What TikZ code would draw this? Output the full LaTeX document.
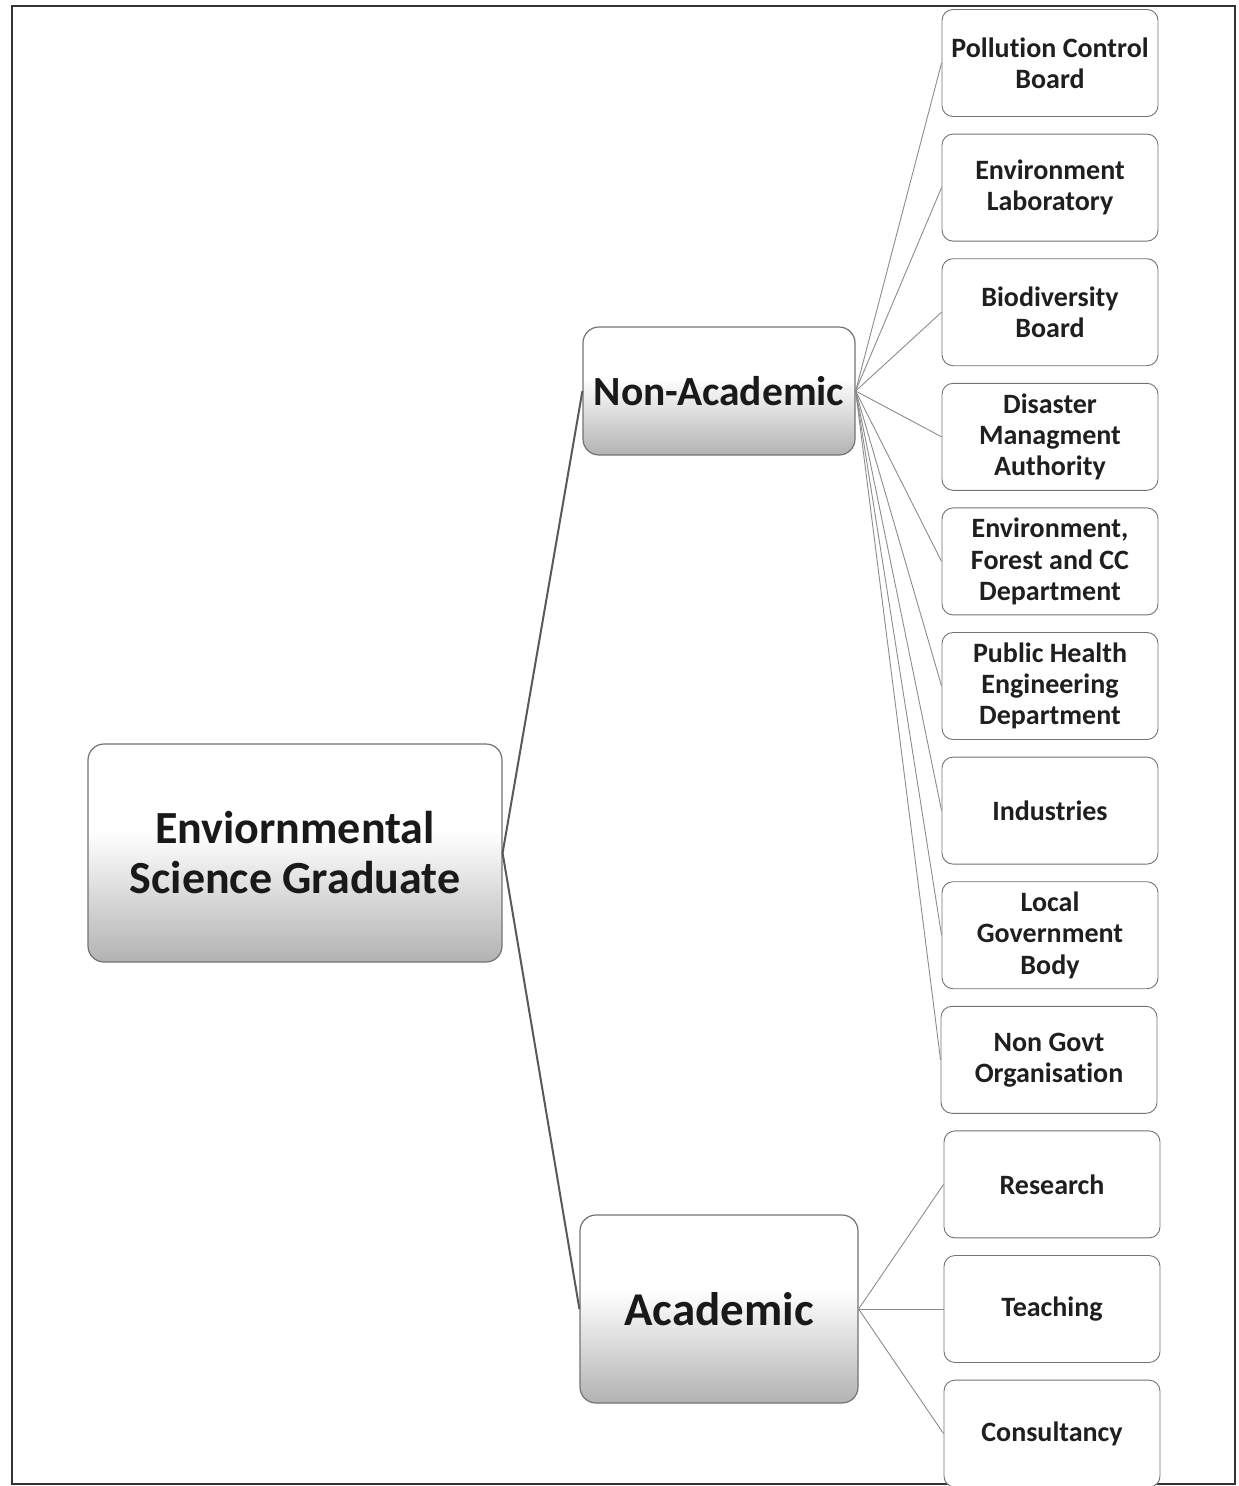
\documentclass[tikz,border=0pt]{standalone}
\usepackage{fontspec}
\setmainfont[Ligatures=NoCommon]{Carlito}
\pgfdeclareverticalshading{boxshade}{100bp}{color(0bp)=(black!40); color(25bp)=(black!30); color(55bp)=(white); color(100bp)=(white)}
\begin{document}
\begin{tikzpicture}[x=1pt,y=-1pt,
  mainbox/.style={rectangle, rounded corners=16pt, draw=black!55, line width=1.2pt, shading=boxshade, align=center, text=black!90, font=\bfseries},
  leafbox/.style={rectangle, rounded corners=11pt, draw=black!55, line width=0.9pt, fill=white, minimum width=216pt, minimum height=107pt, align=center, text=black!88, font=\fontsize{28}{31.2}\selectfont\bfseries, inner sep=1pt},
  thickline/.style={draw=black!65, line width=2pt},
  thinline/.style={draw=black!45, line width=0.9pt}]
\useasboundingbox (0,0) rectangle (1239,1486);
\draw[line width=2pt, black!80] (12,6) rectangle (1235,1484);

\node[mainbox, minimum width=414pt, minimum height=218pt, font=\fontsize{46}{50}\selectfont\bfseries] (root) at (295,853) {Enviornmental\\Science Graduate};
\node[mainbox, minimum width=272pt, minimum height=128pt, font=\fontsize{41.5}{44}\selectfont\bfseries] (na) at (719,391) {Non-Academic};
\node[mainbox, minimum width=278pt, minimum height=188pt, font=\fontsize{47}{49}\selectfont\bfseries] (ac) at (719,1309) {Academic};

\node[leafbox] (l1) at (1050,63) {Pollution Control\\Board};
\node[leafbox] (l2) at (1050,187.6) {Environment\\Laboratory};
\node[leafbox] (l3) at (1050,312.2) {Biodiversity\\Board};
\node[leafbox] (l4) at (1050,436.8) {Disaster\\Managment\\Authority};
\node[leafbox] (l5) at (1050,561.4) {Environment,\\Forest and CC\\Department};
\node[leafbox] (l6) at (1050,686) {Public Health\\Engineering\\Department};
\node[leafbox] (l7) at (1050,810.6) {Industries};
\node[leafbox] (l8) at (1050,935.2) {Local\\Government\\Body};
\node[leafbox] (l9) at (1049,1059.8) {Non Govt\\Organisation};
\node[leafbox] (r1) at (1052,1184.4) {Research};
\node[leafbox] (r2) at (1052,1309) {Teaching};
\node[leafbox] (r3) at (1052,1433.6) {Consultancy};

\draw[thickline] (na.west) -- (root.east) -- (ac.west);
\foreach \n in {l1,l2,l3,l4,l5,l6,l7,l8,l9} \draw[thinline] (na.east) -- (\n.west);
\foreach \n in {r1,r2,r3} \draw[thinline] (ac.east) -- (\n.west);
\end{tikzpicture}
\end{document}
